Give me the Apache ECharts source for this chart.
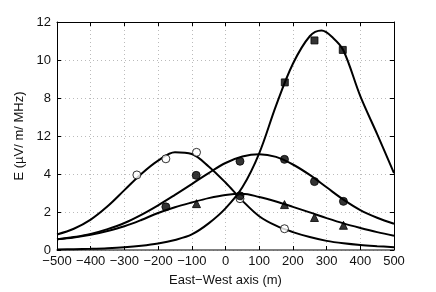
<!DOCTYPE html>
<html><head><meta charset="utf-8">
<script src="https://cdn.jsdelivr.net/npm/echarts@6/dist/echarts.min.js"></script>
<style>html,body{margin:0;padding:0;background:#fff}#c{width:436px;height:292px}</style>
</head><body><div id="c"></div>
<script>
// curves: [x, E]
var curveOpen = [[-500,0.82],[-450,1.12],[-400,1.6],[-350,2.3],[-300,3.15],[-250,4.0],[-200,4.7],[-150,5.15],[-100,5.05],[-50,4.4],[0,3.55],[50,2.6],[100,1.78],[150,1.28],[200,0.94],[250,0.68],[300,0.48],[350,0.35],[400,0.26],[450,0.2],[500,0.15]];
var curveFilled = [[-500,0.56],[-450,0.68],[-400,0.85],[-350,1.1],[-300,1.42],[-250,1.85],[-200,2.35],[-150,2.9],[-100,3.47],[-50,4.05],[0,4.58],[50,4.92],[100,5.04],[150,4.9],[200,4.5],[250,3.95],[300,3.3],[350,2.65],[400,2.1],[450,1.7],[500,1.38]];
var curveTri = [[-500,0.56],[-450,0.66],[-400,0.8],[-350,1.0],[-300,1.25],[-250,1.58],[-200,1.95],[-150,2.25],[-100,2.5],[-50,2.73],[0,2.9],[50,2.96],[100,2.79],[150,2.55],[200,2.27],[250,1.98],[300,1.68],[350,1.4],[400,1.16],[450,0.94],[500,0.75]];
var curveSquare = [[-500,0.03],[-450,0.04],[-400,0.06],[-350,0.09],[-300,0.14],[-250,0.22],[-200,0.34],[-150,0.53],[-100,0.82],[-50,1.4],[0,2.19],[50,3.3],[100,5.09],[150,7.6],[200,9.8],[250,11.25],[285,11.55],[320,11.15],[350,10.5],[400,8.1],[450,6.1],[500,4.05]];
// measured points
var ptsOpen = [[-263,3.95],[-177,4.8],[-86,5.14],[43,2.7],[175,1.12]];
var ptsFilled = [[-177,2.27],[-87,3.93],[43,4.67],[175,4.77],[264,3.6],[350,2.56]];
var ptsTri = [[-86,2.44],[175,2.39],[264,1.71],[350,1.3]];
var ptsExtra = [[43,2.85]];
var ptsSquare = [[176,8.82],[264,11.03],[348,10.53]];
var yTickLabels = ["0","2","4","12","8","10","12"];
var xTickLabels = {"-500":"\u2212500","-400":"\u2212400","-300":"\u2212300","-200":"\u2212200","-100":"\u2212100","0":"0","100":"100","200":"200","300":"300","400":"400","500":"500"};

var font = 'Liberation Sans, Arial, sans-serif';
var chart = echarts.init(document.getElementById('c'), null, {renderer:'canvas'});
function line(d){return {type:'line',data:d,smooth:0.35,showSymbol:false,symbol:'none',lineStyle:{color:'#000',width:2},z:2,xAxisIndex:0,yAxisIndex:0};}
function pts(d,sym,size,fill){return {type:'scatter',data:d,symbol:sym,symbolSize:size,itemStyle:{color:fill,borderColor:'#000',borderWidth:1},z:5,xAxisIndex:0,yAxisIndex:0};}
chart.setOption({
  animation:false,
  grid:{left:57,right:42,top:22,bottom:36},
  xAxis:[{type:'value',min:-500,max:500,interval:100,position:'bottom',
    name:'East\u2212West axis (m)',nameLocation:'middle',nameGap:24,
    nameTextStyle:{color:'#111',fontSize:13,fontFamily:font},
    axisLine:{onZero:false,lineStyle:{color:'#555',width:1.5}},
    axisTick:{inside:true,length:4,lineStyle:{color:'#000'}},
    axisLabel:{color:'#111',fontSize:13,fontFamily:font,margin:5,formatter:function(v){return xTickLabels[String(v)];}},
    splitLine:{show:true,lineStyle:{color:'#bbb',type:[1,3],width:1}}},
   {type:'value',min:-500,max:500,interval:100,position:'top',
    axisLine:{show:true,onZero:false,lineStyle:{color:'#000',width:1}},
    axisTick:{inside:true,length:4,lineStyle:{color:'#000'}},
    axisLabel:{show:false},splitLine:{show:false}}],
  yAxis:[{type:'value',min:0,max:12,interval:2,position:'left',
    name:'E (\u00b5V/ m/ MHz)',nameLocation:'middle',nameGap:30,nameRotate:90,
    nameTextStyle:{color:'#111',fontSize:13,fontFamily:font},
    axisLine:{show:true,onZero:false,lineStyle:{color:'#000',width:1}},
    axisTick:{inside:true,length:4,lineStyle:{color:'#000'}},
    axisLabel:{color:'#111',fontSize:13,fontFamily:font,margin:6,formatter:function(v){return yTickLabels[Math.round(v/2)];}},
    splitLine:{show:true,lineStyle:{color:'#bbb',type:[1,3],width:1}}},
   {type:'value',min:0,max:12,interval:2,position:'right',
    axisLine:{show:true,onZero:false,lineStyle:{color:'#000',width:1}},
    axisTick:{inside:true,length:4,lineStyle:{color:'#000'}},
    axisLabel:{show:false},splitLine:{show:false}}],
  series:[
    line(curveOpen),line(curveFilled),line(curveTri),line(curveSquare),
    pts(ptsOpen,'circle',8,'#fff'),
    pts(ptsFilled,'circle',8,'#000'),
    pts(ptsTri,'triangle',8,'#000'),
    pts(ptsExtra,'circle',8,'#000'),
    pts(ptsSquare,'rect',7,'#000')
  ]
});
</script></body></html>
